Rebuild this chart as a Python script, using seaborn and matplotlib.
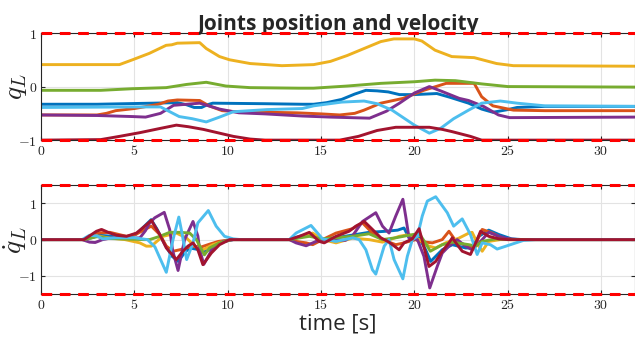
import numpy as np
import pandas as pd
import matplotlib
matplotlib.use("Agg")
import matplotlib.pyplot as plt
import seaborn as sns
from matplotlib.ticker import FuncFormatter

# ---------------- data ----------------
joints = ["j1", "j2", "j3", "j4", "j5", "j6", "j7"]
colors = ["#0072BD", "#D95319", "#EDB120", "#7E2F8E", "#77AC30", "#4DBEEE", "#A2142F"]

# joint positions q_L (time, value)
q1_t = [0, 3, 6, 7.3, 7.8, 8.2, 8.6, 8.9, 9.2, 12, 14, 14.6, 15.3, 16.1, 16.8, 17.4, 18, 18.6, 19.2, 20, 21.2, 21.9, 22.9, 23.6, 24.2, 25, 25.5, 27, 31.8]
q1_v = [-0.33, -0.33, -0.31, -0.3, -0.34, -0.39, -0.39, -0.34, -0.31, -0.32, -0.33, -0.33, -0.3, -0.24, -0.14, -0.07, -0.08, -0.1, -0.15, -0.15, -0.13, -0.2, -0.31, -0.42, -0.48, -0.43, -0.39, -0.37, -0.37]

q2_t = [0, 3, 3.5, 4, 5, 5.5, 6.3, 6.8, 7.3, 8.5, 9, 9.7, 10.5, 13.7, 15, 16, 16.8, 17.3, 18.2, 19.4, 20.5, 21.7, 23.2, 23.6, 24.2, 25.3, 27, 31.8]
q2_v = [-0.53, -0.53, -0.5, -0.45, -0.41, -0.38, -0.33, -0.27, -0.25, -0.26, -0.36, -0.45, -0.47, -0.49, -0.51, -0.53, -0.5, -0.44, -0.31, -0.22, -0.07, 0.06, 0.06, -0.19, -0.36, -0.44, -0.45, -0.45]

q3_t = [0, 4.2, 4.9, 5.8, 6.7, 7.0, 7.3, 8.5, 8.85, 9.56, 10.1, 11.2, 12.9, 14.6, 15.5, 16.4, 17.3, 18.2, 18.9, 20, 20.4, 21.1, 22, 23.2, 24.4, 25.3, 31.8]
q3_v = [0.41, 0.41, 0.5, 0.62, 0.77, 0.78, 0.81, 0.82, 0.71, 0.56, 0.5, 0.43, 0.39, 0.41, 0.47, 0.58, 0.71, 0.84, 0.89, 0.89, 0.85, 0.68, 0.56, 0.54, 0.43, 0.39, 0.38]

q4_t = [0, 3, 4.9, 5.6, 6.4, 7.1, 7.8, 8.5, 9.56, 10.6, 12, 14, 15.5, 17.6, 18.5, 19.2, 20, 20.8, 21.4, 22.4, 22.9, 23.7, 24.5, 25.1, 31.8]
q4_v = [-0.53, -0.54, -0.56, -0.57, -0.5, -0.35, -0.33, -0.31, -0.42, -0.49, -0.51, -0.55, -0.57, -0.59, -0.46, -0.31, -0.12, 0.0, -0.08, -0.22, -0.26, -0.37, -0.53, -0.58, -0.57]

q5_t = [0, 3.2, 4.9, 6.7, 7.8, 8.85, 9.9, 11.2, 13.8, 14.6, 16.4, 18.2, 20, 21.1, 22.2, 23.6, 25, 31.8]
q5_v = [-0.07, -0.07, -0.04, -0.02, 0.04, 0.08, 0.01, -0.02, -0.03, -0.03, 0.01, 0.06, 0.09, 0.12, 0.11, 0.05, 0.0, -0.01]

q6_t = [0, 4.9, 6.4, 6.9, 7.4, 8.1, 8.85, 9.56, 10.3, 12.1, 14.0, 14.6, 16.1, 17.3, 18.0, 18.8, 20, 20.8, 21.4, 22.1, 22.9, 23.6, 24.6, 25.5, 27, 31.8]
q6_v = [-0.39, -0.38, -0.38, -0.47, -0.56, -0.6, -0.66, -0.57, -0.47, -0.43, -0.41, -0.36, -0.29, -0.27, -0.32, -0.44, -0.72, -0.87, -0.78, -0.6, -0.44, -0.31, -0.27, -0.31, -0.36, -0.37]

q7_t = [0, 3.2, 4.2, 5.3, 6.4, 7.25, 7.9, 8.7, 9.56, 10.3, 11.2, 12, 16, 17, 18, 19, 20, 20.8, 21.5, 22, 23, 23.6, 31.8]
q7_v = [-1.0, -0.99, -0.93, -0.86, -0.78, -0.72, -0.75, -0.8, -0.87, -0.93, -0.98, -1.0, -1.0, -0.93, -0.82, -0.76, -0.76, -0.76, -0.8, -0.84, -0.93, -1.0, -1.0]

# joint velocities dq_L (time, value)
d1_t = [0, 2.3, 2.7, 3.1, 3.6, 4.1, 4.6, 5.1, 5.5, 5.9, 6.2, 6.6, 7.0, 7.35, 7.7, 7.96, 8.5, 8.85, 9.3, 9.8, 10.3, 13.3, 13.84, 14.37, 15.08, 15.8, 16.86, 17.57, 18.47, 19.1, 19.44, 19.71, 20.25, 20.6, 20.87, 21.49, 22.03, 22.74, 23.09, 23.45, 23.98, 24.52, 25.2, 25.8, 31.8]
d1_v = [0, 0, 0.05, 0.12, 0.1, 0.07, 0.06, 0.15, 0.35, 0.55, 0.3, -0.1, -0.45, -0.6, -0.35, -0.23, -0.28, -0.32, -0.18, -0.05, 0, 0, 0.09, 0.15, 0.0, 0.05, 0.14, 0.2, 0.23, 0.26, 0.32, 0.05, 0.05, -0.28, -0.6, -0.28, -0.14, -0.23, -0.23, 0.09, 0.26, 0.14, 0.02, 0, 0]

d2_t = [0, 2.3, 2.97, 3.69, 4.58, 5.1, 5.64, 5.91, 6.36, 6.71, 7.07, 7.43, 7.78, 8.14, 8.6, 9.0, 9.5, 10.2, 13.3, 13.66, 14.2, 14.55, 15.08, 15.8, 16.68, 17.22, 17.75, 18.29, 19.0, 19.36, 20.07, 20.25, 20.96, 21.49, 21.85, 22.29, 22.74, 23.18, 23.63, 24.16, 24.7, 25.3, 31.8]
d2_v = [0, 0, 0.18, 0.2, 0.09, 0.15, 0.3, 0.37, 0.14, -0.18, -0.32, -0.28, -0.23, -0.18, -0.2, -0.13, -0.05, 0, 0, -0.05, -0.09, -0.14, 0, 0.18, 0.3, 0.46, 0.18, 0, -0.14, -0.1, 0, -0.05, -0.09, 0, 0.23, -0.09, -0.14, -0.23, 0.28, 0.18, 0.04, 0, 0]

d3_t = [0, 2.3, 3.0, 3.6, 4.5, 5.29, 5.64, 5.91, 6.2, 6.53, 7.25, 7.78, 8.23, 8.67, 9.2, 9.74, 10.2, 13.3, 13.66, 14.55, 15.08, 15.8, 16.68, 17.57, 18.29, 19.18, 19.71, 20.25, 20.78, 21.14, 21.67, 22.38, 22.92, 23.09, 23.45, 23.63, 23.98, 24.6, 31.8]
d3_v = [0, 0, 0.1, 0.05, 0.0, -0.09, -0.18, -0.18, -0.05, 0.09, 0.18, 0.05, -0.18, -0.28, -0.14, -0.05, 0, 0, 0.04, 0.18, 0, -0.09, 0.04, 0, -0.07, 0.09, 0.14, 0, -0.18, -0.23, -0.09, 0.04, 0.18, 0.2, -0.18, -0.32, -0.05, 0, 0]

d4_t = [0, 2.2, 2.6, 2.9, 3.3, 3.8, 4.6, 5.3, 5.6, 5.82, 6.09, 6.6, 6.89, 7.05, 7.34, 7.69, 8.14, 8.4, 8.5, 8.72, 9.2, 9.74, 10.3, 13.3, 13.66, 14.2, 14.73, 15.08, 16.3, 16.68, 17.22, 17.93, 18.29, 18.64, 19.0, 19.38, 19.53, 19.71, 20.16, 20.51, 20.82, 21.22, 21.49, 21.85, 22.29, 22.74, 23.09, 23.63, 23.98, 24.52, 25.05, 25.6, 31.8]
d4_v = [0, 0, -0.07, -0.08, 0.0, 0.05, 0.03, 0.05, 0.25, 0.46, 0.6, 0.75, 0.28, -0.3, -0.85, 0, 0.5, 0.1, -0.28, -0.68, -0.23, -0.05, 0, 0, -0.09, -0.17, -0.05, 0, -0.02, 0.1, 0.5, 0.74, 0.37, 0.18, 0.65, 1.11, 0.65, 0.05, 0, -0.46, -1.33, -0.74, -0.37, -0.18, 0, -0.18, -0.28, 0, 0.2, 0.09, 0.02, 0, 0]

d5_t = [0, 2.3, 3.0, 3.7, 5.5, 5.82, 6.36, 6.89, 7.43, 7.96, 8.32, 8.75, 9.03, 9.56, 10.2, 13.3, 14.37, 15.08, 16.68, 17.57, 18.29, 19.0, 19.71, 20.25, 20.6, 20.85, 21.49, 22.03, 22.92, 23.27, 23.63, 24.34, 25, 31.8]
d5_v = [0, 0, 0.08, 0.03, 0.0, 0, 0.09, 0.2, 0.2, 0.18, 0, -0.42, -0.23, -0.09, 0, 0, 0.09, 0.02, 0.09, 0.16, 0, 0.05, 0.12, 0.17, -0.1, -0.32, -0.14, -0.07, -0.14, -0.18, -0.05, 0.02, 0, 0]

d6_t = [0, 2.2, 2.6, 3.0, 3.3, 4, 5, 5.7, 6.1, 6.36, 6.71, 7.07, 7.38, 7.55, 7.8, 8.14, 8.4, 8.96, 9.38, 9.83, 10.3, 10.7, 13.3, 13.66, 14.46, 15.08, 15.8, 16.7, 17.04, 17.4, 17.75, 17.93, 18.38, 18.64, 18.91, 19.38, 19.62, 19.89, 20.16, 20.42, 20.69, 21.14, 21.76, 22.1, 22.56, 23.0, 23.36, 23.63, 24.07, 24.43, 25.14, 25.85, 26.5, 31.8]
d6_v = [0, 0, 0.12, 0.1, 0.02, 0.05, 0.05, 0.0, -0.2, -0.5, -0.9, 0, 0.62, 0.18, -0.55, -0.09, 0.46, 0.8, 0.37, 0.09, 0.02, 0, 0, 0.18, 0.39, 0.02, -0.05, 0.05, 0, -0.28, -0.83, -0.95, -0.18, 0, -0.55, -1.08, -0.46, 0, 0.09, 0.65, 1.06, 1.18, 0.74, 0.37, 0.57, 0.14, -0.41, -0.09, -0.14, -0.26, -0.14, -0.02, 0, 0]

d7_t = [0, 2.3, 2.97, 3.24, 3.69, 4.04, 4.58, 5.11, 5.56, 5.91, 6.36, 6.71, 7.25, 7.6, 7.87, 8.14, 8.4, 8.67, 9.12, 9.56, 10.1, 13.3, 13.84, 14.37, 14.9, 15.17, 15.8, 16.5, 16.86, 17.31, 17.75, 18.2, 18.64, 19.18, 19.44, 19.89, 20.25, 20.51, 20.78, 21.14, 21.49, 21.85, 22.03, 22.29, 22.56, 23.0, 23.36, 23.54, 23.98, 24.52, 25, 31.8]
d7_v = [0, 0, 0.23, 0.28, 0.18, 0.12, 0.09, 0.18, 0.37, 0.53, 0.14, -0.23, -0.55, -0.32, -0.18, -0.09, -0.28, -0.69, -0.37, -0.14, 0, 0, 0.09, 0.2, -0.05, -0.09, 0.09, 0.23, 0.37, 0.5, 0.28, 0.05, -0.07, -0.28, -0.09, 0.02, 0.3, -0.2, -0.74, -0.6, -0.32, -0.09, 0.05, -0.14, -0.32, -0.41, 0, 0.23, 0.09, 0.02, 0, 0]

q_limit = 1.0
dq_limit = 1.5
x_ticks = [0, 5, 10, 15, 20, 25, 30]
q_ticks = [-1, 0, 1]
dq_ticks = [-1, 0, 1]
title = "Joints position and velocity"
xlabel = "time [s]"

pos_series = [(q1_t, q1_v), (q2_t, q2_v), (q3_t, q3_v), (q4_t, q4_v), (q5_t, q5_v), (q6_t, q6_v), (q7_t, q7_v)]
vel_series = [(d1_t, d1_v), (d2_t, d2_v), (d3_t, d3_v), (d4_t, d4_v), (d5_t, d5_v), (d6_t, d6_v), (d7_t, d7_v)]

def build(series):
    frames = []
    for j, (t, v) in zip(joints, series):
        frames.append(pd.DataFrame({"t": t, "v": v, "joint": j}))
    return pd.concat(frames, ignore_index=True)

df_q = build(pos_series)
df_dq = build(vel_series)

# ---------------- style ----------------
sns.set_theme(style="white")
plt.rcParams["font.family"] = ["Open Sans", "DejaVu Sans"]
plt.rcParams["mathtext.fontset"] = "cm"

fig = plt.figure(figsize=(6.35, 3.46), dpi=100)
ax1 = fig.add_axes([0.0646, 0.595, 0.935, 0.3096])
ax2 = fig.add_axes([0.0646, 0.150, 0.935, 0.315])

palette = dict(zip(joints, colors))
fmt = FuncFormatter(lambda v, p: r"$%g$" % v)

for ax, df, lim, yt in [(ax1, df_q, q_limit, q_ticks), (ax2, df_dq, dq_limit, dq_ticks)]:
    sns.lineplot(data=df, x="t", y="v", hue="joint", palette=palette, estimator=None,
                 sort=False, legend=False, lw=2.1, ax=ax)
    ax.axhline(lim, color="#FF0000", lw=2.2, ls=(0, (3.5, 2.5)), zorder=5, clip_on=False)
    ax.axhline(-lim, color="#FF0000", lw=2.2, ls=(0, (3.5, 2.5)), zorder=5, clip_on=False)
    ax.set_xlim(0, 31.8)
    ax.set_ylim(-lim, lim)
    ax.set_xticks(x_ticks)
    ax.set_yticks(yt)
    ax.xaxis.set_major_formatter(fmt)
    ax.yaxis.set_major_formatter(fmt)
    ax.grid(True, color="#e3e3e3", lw=0.8)
    ax.tick_params(direction="in", length=3, width=0.8, color="#262626",
                   labelsize=10, pad=3, top=True, right=True, bottom=True, left=True)
    for s in ax.spines.values():
        s.set_color("#262626")
        s.set_linewidth(0.8)
    ax.set_xlabel("")
    ax.set_ylabel("")

ax1.set_ylabel(r"$q_L$", fontsize=20)
ax1.yaxis.set_label_coords(-0.021, 0.5)
ax2.set_ylabel(r"$\dot{q}_L$", fontsize=20)
ax2.yaxis.set_label_coords(-0.021, 0.5)
ax1.set_title(title, fontsize=15, fontweight="bold", pad=2)
ax2.set_xlabel(xlabel, fontsize=16, labelpad=0)

fig.savefig("out.png", dpi=100)
